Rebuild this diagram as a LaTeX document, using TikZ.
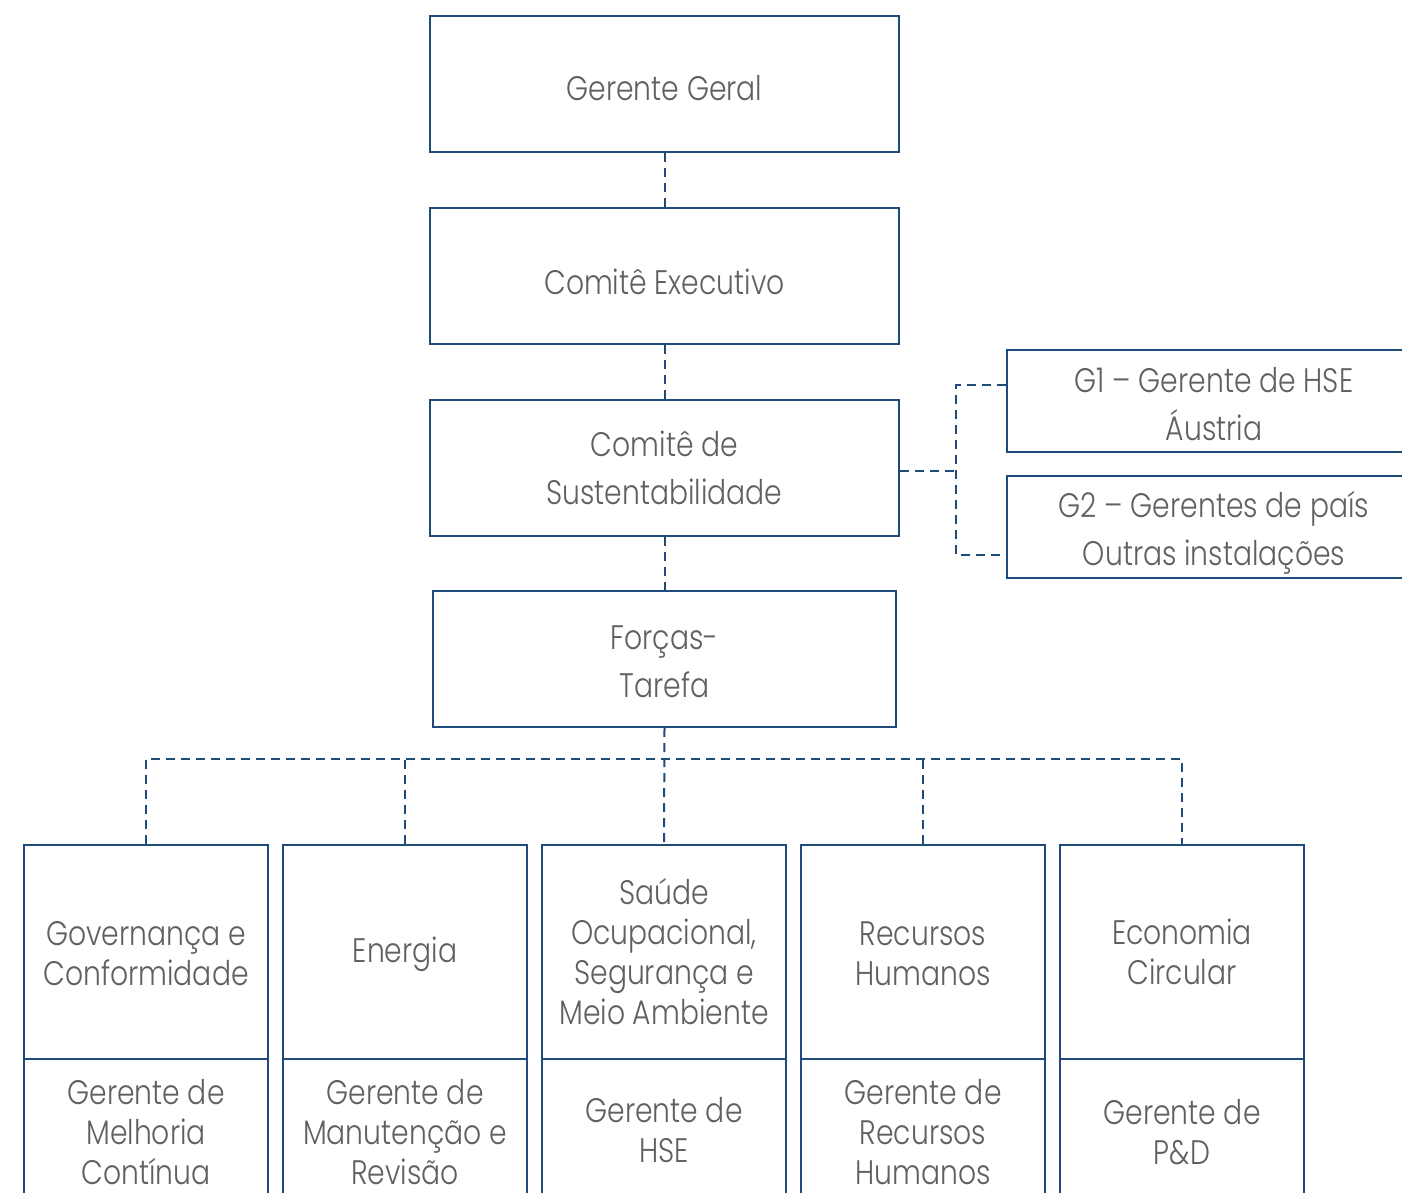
\documentclass[tikz,border=0pt]{standalone}
\usepackage{fontspec}
\setmainfont{Poppins}[UprightFont=* Light, FakeStretch=0.83]
\usetikzlibrary{calc}
\definecolor{lineblue}{HTML}{1F4A7C}
\definecolor{textgray}{HTML}{5F6062}
\newcommand\dstrut[1]{\rule{0pt}{#1pt}}
\begin{document}
\begin{tikzpicture}[x=1pt,y=-1pt,
  box/.style={draw=lineblue, line width=2pt, rectangle, align=center, text=textgray,
    inner sep=0pt, font=\fontsize{34}{48}\selectfont},
  lowbox/.style={box, font=\fontsize{34}{40}\selectfont, minimum width=244pt},
  conn/.style={draw=lineblue, line width=2pt, dash pattern=on 9pt off 6pt}]
\useasboundingbox (0,0) rectangle (1402,1193);
\clip (0,0) rectangle (1402,1193);
\fill[white] (0,0) rectangle (1402,1193);

\node[box, minimum width=469pt, minimum height=136pt] (gg) at (664.5,84) {\dstrut{33}Gerente Geral};
\node[box, minimum width=469pt, minimum height=136pt] (ce) at (664.5,276) {\dstrut{37}Comitê Executivo};
\node[box, minimum width=469pt, minimum height=136pt] (cs) at (664.5,468) {Comitê de\\Sustentabilidade};
\node[box, minimum width=463pt, minimum height=136pt] (ft) at (664.5,659) {\dstrut{30}Forças-\\Tarefa};

\node[box, minimum width=414pt, minimum height=102pt] (g1) at (1214,401) {\dstrut{31}G1 – Gerente de HSE\\Áustria};
\node[box, minimum width=414pt, minimum height=102pt] (g2) at (1214,527) {\dstrut{37}G2 – Gerentes de país\\Outras instalações};

\node[lowbox, minimum height=214pt] (t1) at (146,952) {\dstrut{28}Governança e\\Conformidade};
\node[lowbox, minimum height=214pt] (t2) at (405,952) {\dstrut{31}Energia};
\node[lowbox, minimum height=214pt] (t3) at (664,952) {Saúde\\Ocupacional,\\Segurança e\\Meio Ambiente};
\node[lowbox, minimum height=214pt] (t4) at (923,952) {\dstrut{28}Recursos\\Humanos};
\node[lowbox, minimum height=214pt] (t5) at (1182,952) {Economia\\Circular};

\node[lowbox, minimum height=146pt] (b1) at (146,1132) {Gerente de\\Melhoria\\Contínua};
\node[lowbox, minimum height=146pt] (b2) at (405,1132) {Gerente de\\Manutenção e\\Revisão};
\node[lowbox, minimum height=146pt] (b3) at (664,1132) {Gerente de\\HSE\rule[-4pt]{0pt}{0pt}};
\node[lowbox, minimum height=146pt] (b4) at (923,1132) {Gerente de\\Recursos\\Humanos};
\node[lowbox, minimum height=146pt] (b5) at (1182,1132) {Gerente de\\P\&D};

\draw[conn] (gg.south) -- (ce.north);
\draw[conn] (ce.south) -- (cs.north);
\draw[conn] (cs.south) -- (ft.north);

\coordinate (rx) at (956,471);
\draw[conn] (cs.east |- rx) -- (rx);
\draw[conn] ($(g1.west)+(0,-16)$) -| (rx) |- ($(g2.west)+(0,28)$);

\coordinate (bus) at (664,759);
\draw[conn] (ft.south) -- (t3.north);
\draw[conn] (t1.north) |- (bus) -| (t5.north);
\draw[conn] (t2.north) -- (t2.north |- bus);
\draw[conn] (t4.north) -- (t4.north |- bus);
\end{tikzpicture}
\end{document}
